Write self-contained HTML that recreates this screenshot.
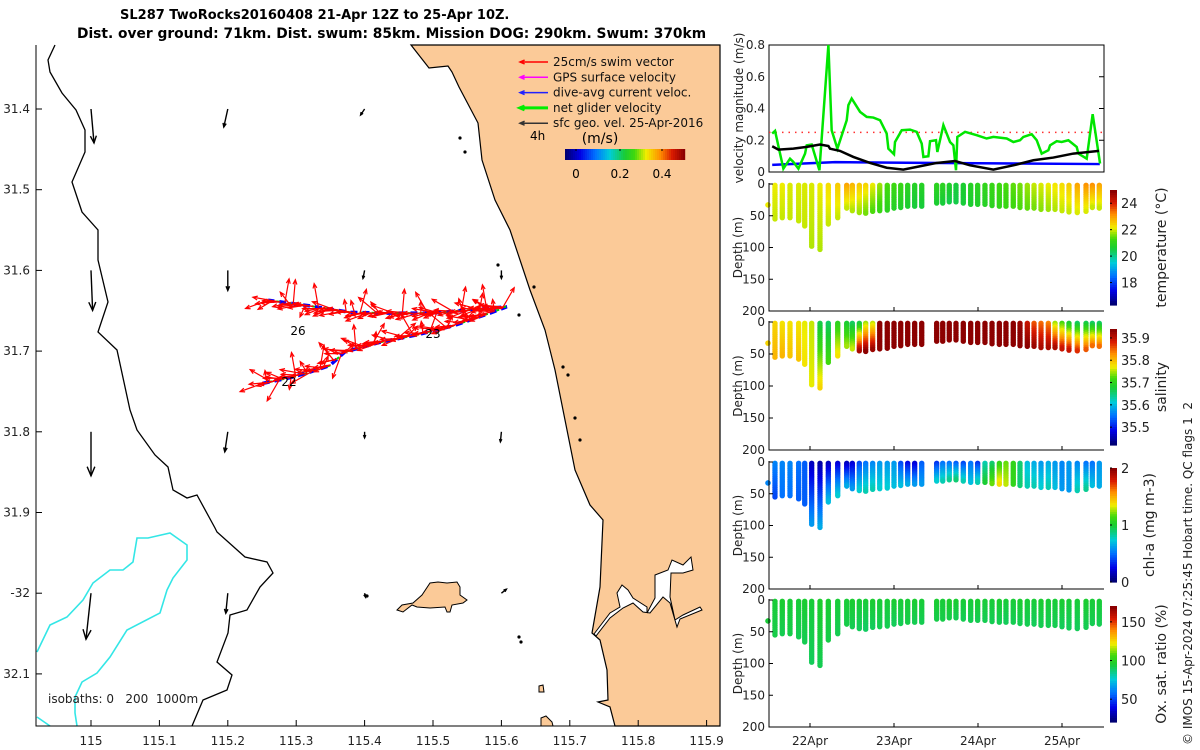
<!DOCTYPE html>
<html><head><meta charset="utf-8"><style>
html,body{margin:0;padding:0;background:#fff;}
svg{display:block;font-family:"DejaVu Sans","Liberation Sans",sans-serif;}
</style></head><body>
<svg id="s" width="1200" height="750" viewBox="0 0 1200 750" xmlns="http://www.w3.org/2000/svg">
<text x="120" y="19" font-size="13" font-weight="bold">SL287 TwoRocks20160408 21-Apr 12Z to 25-Apr 10Z.</text>
<text x="77" y="38" font-size="13.8" font-weight="bold">Dist. over ground: 71km. Dist. swum: 85km. Mission DOG: 290km. Swum: 370km</text>
<g id="map"></g>
<g id="right"></g>
</svg>
<script>
// ---------- DATA ----------
const lonTicks=[115,115.1,115.2,115.3,115.4,115.5,115.6,115.7,115.8,115.9];
const lonTickLabels=["115","115.1","115.2","115.3","115.4","115.5","115.6","115.7","115.8","115.9"];
const latTicks=[31.4,31.5,31.6,31.7,31.8,31.9,32.0,32.1];
const latTickLabels=["31.4","31.5","31.6","31.7","31.8","31.9","-32","32.1"];
const trackLon=[115.251,115.291,115.320,115.349,115.371,115.423,115.481,115.532,115.583,115.608,115.554,115.496,115.437,115.379,115.320,115.259];
const trackLat=[31.740,31.733,31.726,31.718,31.701,31.689,31.679,31.668,31.653,31.645,31.649,31.653,31.653,31.652,31.644,31.637];
const swimAngles=[200,150,240,180,100,170,210,80,190,130,250,175,95,160,60,200,185,40,165,120,190,70,175,140,200,45,170,80,185,150,60,175,190,100,165,200,80,150,185,170,120,195,175,85,160,180,140,200,75,170,190,160,180,100,175,190,85,80,170,200];
const geoLon=[115,115,115,115,115.2,115.2,115.2,115.2,115.4,115.4,115.4,115.4,115.6,115.6,115.6];
const geoLat=[31.4,31.6,31.8,32.0,31.4,31.6,31.8,32.0,31.4,31.6,31.8,32.0,31.6,31.8,32.0];
const geoU=[0.015,0.008,0,-0.025,-0.02,0,-0.015,-0.01,-0.02,-0.008,0,0.005,0,-0.005,0.025];
const geoV=[-0.17,-0.2,-0.22,-0.23,-0.09,-0.1,-0.1,-0.1,-0.03,-0.04,-0.03,-0.02,-0.04,-0.05,0.02];
const velTicks=[0,0.2,0.4,0.6,0.8];
const greenDay=[21.55,21.584,21.683,21.762,21.802,21.862,21.941,21.961,22.02,22.112,22.219,22.258,22.326,22.437,22.457,22.496,22.596,22.675,22.754,22.834,22.913,22.933,23.0,23.012,23.092,23.191,23.27,23.33,23.35,23.409,23.429,23.5,23.516,23.588,23.667,23.707,23.738,23.754,23.846,23.984,24.103,24.183,24.342,24.421,24.5,24.54,24.639,24.699,24.758,24.838,24.858,24.937,24.996,25.076,25.175,25.195,25.294,25.365,25.453];
const greenVel=[0.242,0.259,0.021,0.084,0.063,0.021,0.116,0.168,0.173,0.011,0.80,0.263,0.147,0.326,0.421,0.463,0.379,0.347,0.343,0.326,0.242,0.147,0.112,0.189,0.263,0.267,0.253,0.179,0.095,0.099,0.194,0.2,0.126,0.295,0.189,0.168,0.011,0.221,0.253,0.232,0.211,0.221,0.211,0.189,0.2,0.221,0.238,0.2,0.116,0.137,0.168,0.194,0.189,0.2,0.158,0.116,0.084,0.364,0.053];
const blackDay=[21.55,21.623,21.802,21.961,22.119,22.219,22.238,22.357,22.516,22.715,22.913,23.111,23.31,23.508,23.727,23.905,24.183,24.421,24.659,24.897,25.135,25.453];
const blackVel=[0.162,0.141,0.147,0.158,0.173,0.164,0.147,0.133,0.095,0.057,0.027,0.015,0.036,0.057,0.069,0.042,0.015,0.042,0.074,0.091,0.116,0.133];
const blueDay=[21.55,22.3,24.0,25.45];
const blueVel=[0.045,0.062,0.055,0.05];
const swimRef=0.25;
const dayTicks=[22,23,24,25];
const dayLabels=["22Apr","23Apr","24Apr","25Apr"];
const diveDay=[21.583,21.670,21.762,21.865,21.937,22.020,22.119,22.218,22.330,22.437,22.504,22.587,22.663,22.746,22.830,22.920,23.000,23.080,23.163,23.246,23.330,23.508,23.580,23.658,23.738,23.825,23.913,23.996,24.083,24.167,24.254,24.333,24.420,24.500,24.587,24.667,24.750,24.837,24.917,25.000,25.083,25.182,25.286,25.361,25.444];
const diveDepth=[55,53,53,58,66,98,103,63,53,38,42,45,46,43,42,41,38,37,35,35,35,30,30,28,28,30,32,32,32,34,35,35,35,37,38,38,40,40,40,42,44,45,43,37,38];
const tempTop=[22.2,22.2,22.1,22.1,22.1,22.1,22.2,22.4,22.6,23.0,22.8,22.6,22.5,22.2,21.8,21.4,21.3,21.2,21.0,20.9,20.9,21.0,21.0,20.8,20.6,20.7,20.9,21.0,21.1,21.2,21.3,21.4,21.5,21.6,21.8,22.0,22.1,22.2,22.3,22.4,22.6,23.0,23.2,23.2,23.0];
const tempBot=[22.0,22.0,22.0,22.0,22.0,21.9,21.9,22.0,22.0,22.0,21.9,21.8,21.6,21.4,21.2,21.0,20.9,20.8,20.7,20.6,20.6,20.7,20.6,20.5,20.5,20.6,20.7,20.8,20.9,21.0,21.1,21.2,21.3,21.4,21.5,21.6,21.7,21.8,21.9,22.0,22.0,22.1,22.1,22.0,22.0];
const salTop=[35.79,35.78,35.78,35.78,35.77,35.76,35.67,35.66,35.70,35.68,35.66,35.67,35.75,35.76,35.95,35.95,35.95,35.95,35.95,35.95,35.95,35.95,35.95,35.95,35.95,35.95,35.95,35.95,35.95,35.95,35.95,35.95,35.94,35.93,35.90,35.86,35.85,35.84,35.75,35.72,35.68,35.66,35.67,35.66,35.66];
const salBot=[35.81,35.81,35.80,35.80,35.78,35.77,35.79,35.72,35.78,35.75,35.76,35.92,35.94,35.93,35.95,35.95,35.95,35.95,35.95,35.95,35.95,35.95,35.95,35.95,35.95,35.95,35.95,35.95,35.95,35.95,35.95,35.95,35.95,35.95,35.94,35.93,35.92,35.92,35.92,35.90,35.90,35.88,35.86,35.85,35.85];
const chlTop=[0.55,0.55,0.55,0.5,0.45,0.15,0.1,0.15,0.2,0.15,0.2,0.4,0.5,0.55,0.6,0.6,0.6,0.4,0.25,0.2,0.45,0.35,0.5,0.5,0.45,0.4,0.5,0.35,0.8,0.9,1.1,1.2,1.1,0.9,0.7,0.65,0.6,0.65,0.6,0.55,0.6,0.55,0.5,0.5,0.6];
const chlBot=[0.4,0.5,0.5,0.45,0.45,0.6,0.65,0.7,0.75,0.65,0.6,0.75,0.8,0.8,0.75,0.75,0.7,0.7,0.65,0.6,0.6,0.75,0.8,0.85,0.9,0.8,0.7,0.8,1.0,1.2,1.4,1.3,1.1,0.9,0.8,0.8,0.75,0.8,0.7,0.6,0.6,0.8,0.85,0.7,0.65];
const oxTop=[95,96,95,95,96,95,97,96,95,95,96,95,95,96,95,95,96,95,95,96,95,96,95,97,96,95,95,96,95,95,96,95,95,96,95,95,96,95,95,96,95,95,96,95,95];
const oxBot=[93,92,93,92,92,91,92,93,92,93,92,91,90,91,92,92,91,92,93,92,92,93,93,93,92,92,92,92,92,92,92,91,92,92,92,91,92,92,92,91,91,91,92,92,92];
const depthTicks=[0,50,100,150,200];

// ---------- helpers ----------
const NS="http://www.w3.org/2000/svg";
function mk(p,tag,attrs,txt){const e=document.createElementNS(NS,tag);for(const k in attrs)e.setAttribute(k,attrs[k]);if(txt!==undefined)e.textContent=txt;p.appendChild(e);return e;}
function cl(v){return Math.max(0,Math.min(1,v));}
const CS=[[0,0,0,0.45],[0.12,0,0,0.9],[0.25,0,0.45,1],[0.37,0,0.8,0.85],[0.5,0.1,0.8,0.2],[0.58,0.25,0.85,0.05],[0.68,0.95,0.93,0],[0.8,1,0.55,0],[0.9,0.85,0.1,0],[1,0.55,0,0]];
function jet(t){t=cl(t);let i=1;while(i<CS.length-1&&CS[i][0]<t)i++;const a=CS[i-1],b=CS[i];const f=(t-a[0])/(b[0]-a[0]);
return `rgb(${Math.round((a[1]+f*(b[1]-a[1]))*255)},${Math.round((a[2]+f*(b[2]-a[2]))*255)},${Math.round((a[3]+f*(b[3]-a[3]))*255)})`;}
const map=document.getElementById('map');
const right=document.getElementById('right');
const xLon=l=>91+(l-115)*684;
const yLat=l=>109+(l-31.4)*807;

// ---------- MAP ----------
const land="M411,45 L429,68 L448,66 L452,72 L459,87 L478,123 L482,160 L495,200 L510,230 L520,260 L530,290 L545,330 L555,370 L565,420 L575,470 L590,505 L603,520 L600,587 L592,633 L600,640 L607,670 L608,700 L598,702 L610,707 L615,726 L720,726 L720,45 Z";
let e=mk(map,'path',{d:land,fill:'#fbca98',stroke:'#000','stroke-width':1.2});

e=mk(map,'path',{d:"M594,634 L610,613 L620,607 L617,593 L622,585 L628,590 L633,598 L647,607 L647,613 L655,598 L655,575 L668,570 L672,560 L683,565 L691,557 L693,570 L683,573 L671,573 L670,597 L675,620 L683,615 L700,607 L702,610 L680,619 L677,627 L670,603 L663,597 L650,613 L643,612 L633,603 L623,608 L610,618 L596,636 Z",fill:'#fff',stroke:'#000','stroke-width':1});

e=mk(map,'path',{d:"M397,610 L402,605 L413,603 L422,595 L430,583 L438,582 L447,583 L457,582 L460,587 L460,595 L467,600 L463,603 L452,605 L450,612 L447,612 L445,607 L430,608 L417,607 L412,605 L403,612 Z",fill:'#fbca98',stroke:'#000','stroke-width':1});

e=mk(map,'path',{d:"M539,686 L543,685 L544,692 L539,692 Z M541,726 L541,718 L546,716 L552,722 L553,726",fill:'#fbca98',stroke:'#000','stroke-width':1});

e=mk(map,'polyline',{points:"55,45 48,60 50,72 62,93 76,110 85,130 85,152 72,182 82,212 98,230 98,260 108,302 98,332 117,350 130,410 137,430 155,455 168,467 173,490 187,498 197,495 215,528 217,532 245,557 267,562 273,573 260,587 247,610 230,615 228,633 217,662 232,675 227,690 203,700 192,726",fill:'none',stroke:'#000','stroke-width':1.3});

e=mk(map,'polyline',{points:"77,726 75,713 75,697 82,682 97,673 110,657 127,630 160,613 167,590 173,578 187,560 187,545 170,533 148,538 137,538 133,562 123,570 110,570 93,583 83,600 67,617 50,625 37,652",fill:'none',stroke:'#33e6e6','stroke-width':1.6});

e=mk(map,'polyline',{points:"37,717 50,726",fill:'none',stroke:'#33e6e6','stroke-width':1.6});

[[460,138],[465,152],[498,265],[534,287],[519,315],[563,367],[568,375],[575,418],[580,440],[367,596],[519,637],[521,642]].forEach(p=>{const r=mk(map,'circle',{cx:p[0],cy:p[1],r:1.6,fill:'#000'});

});
function arrow(g,x1,y1,x2,y2,col,w,h){const a=Math.atan2(y2-y1,x2-x1);mk(g,'line',{x1:x1,y1:y1,x2:x2,y2:y2,stroke:col,'stroke-width':w});
mk(g,'polyline',{points:`${x2-h*Math.cos(a-0.4)},${y2-h*Math.sin(a-0.4)} ${x2},${y2} ${x2-h*Math.cos(a+0.4)},${y2-h*Math.sin(a+0.4)}`,fill:'none',stroke:col,'stroke-width':w});}
for(let i=0;i<geoLon.length;i++){const g=mk(map,'g',{});


const x=xLon(geoLon[i]),y=yLat(geoLat[i]);const sp=Math.hypot(geoU[i],geoV[i]);arrow(g,x,y,x+geoU[i]*200,y-geoV[i]*200,'#000',1.4,Math.max(3,sp*45));}
const tg=mk(map,'g',{});
const sw=mk(map,'g',{});
let tp=trackLon.map((l,i)=>[xLon(l),yLat(trackLat[i])]);
let segs=[],tot=0;for(let i=1;i<tp.length;i++){const d=Math.hypot(tp[i][0]-tp[i-1][0],tp[i][1]-tp[i-1][1]);segs.push(d);tot+=d;}
function ptAt(s){for(let i=0;i<segs.length;i++){if(s<=segs[i]){const f=s/segs[i];return [tp[i][0]+f*(tp[i+1][0]-tp[i][0]),tp[i][1]+f*(tp[i+1][1]-tp[i][1])];}s-=segs[i];}return tp[tp.length-1];}
for(let k=0;k<swimAngles.length;k++){const p=ptAt(tot*k/(swimAngles.length-1));const a=swimAngles[k]*Math.PI/180;arrow(sw,p[0],p[1],p[0]+24*Math.cos(a),p[1]-24*Math.sin(a),'#ff0000',1.2,5);
const p2=ptAt(tot*(k+0.5)/(swimAngles.length));const a2=(swimAngles[(k+7)%swimAngles.length]+15)*Math.PI/180;arrow(sw,p2[0],p2[1],p2[0]+20*Math.cos(a2),p2[1]-12*Math.sin(a2),'#ff0000',1.2,5);
const a3=(swimAngles[(k+23)%swimAngles.length]*0.3+150)*Math.PI/180;arrow(sw,p2[0],p2[1],p2[0]+18*Math.cos(a3),p2[1]-8*Math.sin(a3),'#ff0000',1.2,5);}
mk(tg,'polyline',{points:tp.map(p=>p.join(',')).join(' '),fill:'none',stroke:'#0000ff','stroke-width':3.5,'stroke-dasharray':'7 5'});
mk(tg,'polyline',{points:tp.map(p=>p.join(',')).join(' '),fill:'none',stroke:'#00cc00','stroke-width':2,'stroke-dasharray':'3 9','stroke-dashoffset':-7});
[["26",298,335],["23",433,338],["22",289,386]].forEach(t=>{const x=mk(map,'text',{x:t[1],y:t[2],'font-size':12,'text-anchor':'middle'},t[0]);

});
e=mk(map,'path',{d:"M36,45 L36,726 L720,726",fill:'none',stroke:'#000','stroke-width':1});

lonTicks.forEach((l,i)=>{const x=xLon(l);mk(map,'line',{x1:x,y1:726,x2:x,y2:720,stroke:'#000'});
const t=mk(map,'text',{x:x,y:745,'font-size':12,'text-anchor':'middle',fill:'#222'},lonTickLabels[i]);

});
latTicks.forEach((l,i)=>{const y=yLat(l);mk(map,'line',{x1:36,y1:y,x2:42,y2:y,stroke:'#000'});
const t=mk(map,'text',{x:30,y:y+4,'font-size':12,'text-anchor':'end',fill:'#222'},latTickLabels[i]);

});
e=mk(map,'text',{x:48,y:703,'font-size':12,fill:'#222','xml:space':'preserve'},"isobaths: 0\u00a0\u00a0\u00a0200\u00a0\u00a01000m");

const lg=mk(map,'g',{});
[["25cm/s swim vector","#ff0000"],["GPS surface velocity","#ff00ff"],["dive-avg current veloc.","#2020ff"],["net glider velocity","#00ee00"],["sfc geo. vel. 25-Apr-2016","#333"]].forEach((r,i)=>{const y=62+i*15.3;arrow(lg,548,y,520,y,r[1],i==3?3:1.5,5);
const t=mk(lg,'text',{x:553,y:y+4,'font-size':12,fill:'#111'},r[0]);

});
mk(lg,'text',{x:530,y:140,'font-size':12},"4h");
mk(lg,'text',{x:600,y:143,'font-size':14,'text-anchor':'middle'},"(m/s)");
for(let i=0;i<60;i++){mk(lg,'rect',{x:565+i*2,y:149,width:2.2,height:11,fill:jet(i/59)});}
[["0",576],["0.2",620],["0.4",662]].forEach(t=>{mk(lg,'line',{x1:t[1],y1:149,x2:t[1],y2:151,stroke:'#000'});mk(lg,'text',{x:t[1],y:178,'font-size':12,'text-anchor':'middle'},t[0]);});

// ---------- RIGHT PANELS ----------
const X0=769,X1=1104;
const xT=d=>810+(d-22)*84;
const yV=v=>172-v/0.8*127;
e=mk(right,'rect',{x:X0,y:45,width:X1-X0,height:127,fill:'none',stroke:'#000'});

velTicks.forEach(v=>{const y=yV(v);mk(right,'line',{x1:X1,y1:y,x2:X1-5,y2:y,stroke:'#000'});
const t=mk(right,'text',{x:765,y:y+4,'font-size':12,'text-anchor':'end',fill:'#222'},String(v));

});
e=mk(right,'line',{x1:X0,y1:yV(swimRef),x2:X1,y2:yV(swimRef),stroke:'#ff3030','stroke-width':1.5,'stroke-dasharray':'1.5 5'});

e=mk(right,'polyline',{points:blueDay.map((d,i)=>xT(d)+','+yV(blueVel[i])).join(' '),fill:'none',stroke:'#0000ff','stroke-width':2.5});

e=mk(right,'polyline',{points:greenDay.map((d,i)=>Math.min(xT(d),1102)+','+yV(greenVel[i])).join(' '),fill:'none',stroke:'#00e600','stroke-width':2.5});

e=mk(right,'polyline',{points:blackDay.map((d,i)=>Math.min(xT(d),1099)+','+yV(blackVel[i])).join(' '),fill:'none',stroke:'#000','stroke-width':2.5});

e=mk(right,'text',{transform:'translate(743,108) rotate(-90)','font-size':12,'text-anchor':'middle',fill:'#222'},"velocity magnitude (m/s)");

const panels=[
 {top:184,bot:311,vmin:16.3,vmax:25,a:tempTop,b:tempBot,cbT:190,cbB:305,ticks:[18,20,22,24],lab:"temperature (°C)",lx:1160,name:'temperature'},
 {top:322,bot:450,vmin:35.42,vmax:35.94,a:salTop,b:salBot,cbT:329,cbB:445,ticks:[35.5,35.6,35.7,35.8,35.9],lab:"salinity",lx:1160,name:'salinity'},
 {top:462,bot:589,vmin:0,vmax:2,a:chlTop,b:chlBot,cbT:468,cbB:582,ticks:[0,1,2],lab:"chl-a (mg m-3)",lx:1148,name:'chlorophyll'},
 {top:600,bot:727,vmin:20.5,vmax:170.5,a:oxTop,b:oxBot,cbT:606,cbB:722,ticks:[50,100,150],lab:"Ox. sat. ratio (%)",lx:1160,name:'oxygen'}];
panels.forEach((P,pi)=>{
 const g=mk(right,'g',{});
 
 
 const yD=d=>P.top+d/200*(P.bot-P.top);
 const nv=v=>(v-P.vmin)/(P.vmax-P.vmin);
 for(let i=0;i<diveDay.length;i++){const x=xT(diveDay[i]);const n=Math.max(2,Math.round(diveDepth[i]/3));
  for(let k=0;k<=n;k++){const f=k/n;const d=2+f*(diveDepth[i]-2);const v=P.a[i]+(P.b[i]-P.a[i])*f;mk(g,'circle',{cx:x,cy:yD(d),r:2.7,fill:jet(nv(v))});}}
 mk(g,'circle',{cx:768,cy:yD(33),r:2.8,fill:jet(nv(P.a[0]))});
 mk(g,'path',{d:`M${X0},${P.top-1} L${X0},${P.bot} L${X1},${P.bot}`,fill:'none',stroke:'#000'});
 depthTicks.forEach(d=>{const y=yD(d);mk(g,'line',{x1:X0,y1:y,x2:X0+4,y2:y,stroke:'#000'});
  const t=mk(g,'text',{x:765,y:y+4,'font-size':12,'text-anchor':'end',fill:'#222'},String(d));
  
  });
 dayTicks.forEach(d=>{mk(g,'line',{x1:xT(d),y1:P.bot,x2:xT(d),y2:P.bot-4,stroke:'#000'});});
 const t=mk(g,'text',{transform:`translate(742,${(P.top+P.bot)/2}) rotate(-90)`,'font-size':12,'text-anchor':'middle',fill:'#222'},"Depth (m)");
 
 
 const cb=mk(g,'g',{});
 
 
 const N=50;for(let k=0;k<N;k++){mk(cb,'rect',{x:1110,y:P.cbB-(k+1)*(P.cbB-P.cbT)/N,width:7,height:(P.cbB-P.cbT)/N+0.6,fill:jet(k/(N-1))});}
 P.ticks.forEach(v=>{const y=P.cbB-nv(v)*(P.cbB-P.cbT);mk(cb,'line',{x1:1110,y1:y,x2:1112,y2:y,stroke:'#000'});
  mk(cb,'text',{x:1121,y:y+5,'font-size':13,fill:'#222'},String(v));});
 const lt=mk(g,'text',{transform:`translate(${P.lx+6},${(P.cbT+P.cbB)/2}) rotate(-90)`,'font-size':14,'text-anchor':'middle',fill:'#222'},P.lab);
 
 
});
dayTicks.forEach((d,i)=>{const t=mk(right,'text',{x:xT(d),y:745,'font-size':12,'text-anchor':'middle',fill:'#222'},dayLabels[i]);

});
e=mk(right,'text',{transform:'translate(1192,745) rotate(-90)','font-size':12,fill:'#222','xml:space':'preserve'},"© IMOS 15-Apr-2024 07:25:45 Hobart time. QC flags 1\u00a0\u00a02");

</script>
</body></html>
